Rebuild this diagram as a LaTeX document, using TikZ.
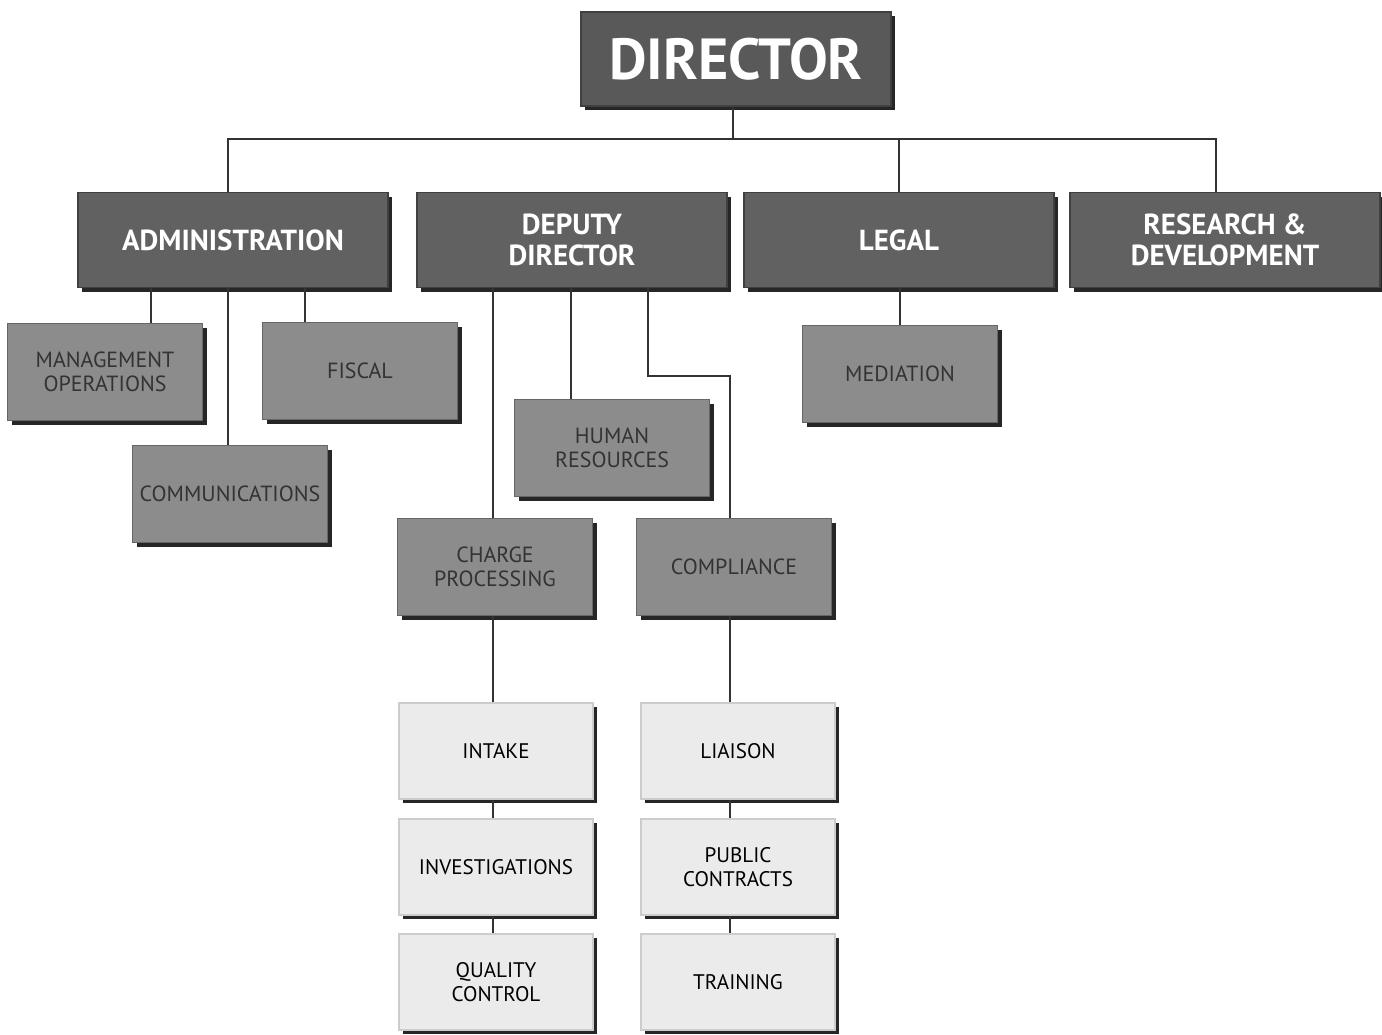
\documentclass[tikz,border=0pt]{standalone}
\usepackage{fontspec}
\setmainfont{PT Sans}
\usetikzlibrary{shadows}

\begin{document}
\begin{tikzpicture}[x=0.02cm,y=-0.02cm,line width=1.1pt,draw=black!80,
  box shadow/.style={drop shadow={shadow xshift=2.4pt,shadow yshift=-2.4pt,fill=black!85,opacity=1}},
  head node/.style={box shadow,draw=black!75,fill=black!65,text=white,font=\bfseries\fontsize{33}{35}\selectfont,minimum width=6.2cm,minimum height=1.88cm},
  top node/.style={box shadow,draw=black!75,fill=black!62,text=white,align=center,font=\bfseries\fontsize{16.5}{18}\selectfont,minimum width=6.2cm,minimum height=1.9cm},
  mid node/.style={box shadow,draw=black!60,fill=black!45,text=black!80,align=center,font=\fontsize{12.5}{14}\selectfont,minimum width=3.9cm,minimum height=1.94cm},
  low node/.style={box shadow,draw=black!20,fill=black!8,text=black,align=center,font=\fontsize{12}{14}\selectfont,minimum width=3.88cm,minimum height=1.92cm}]
  \useasboundingbox (0,0) rectangle (1382,1034);

  \node[head node] (dir) at (736,59) {DIRECTOR};

  \node[top node] (adm) at (233,240) {ADMINISTRATION};
  \node[top node] (dep) at (572,240) {DEPUTY\\DIRECTOR};
  \node[top node] (leg) at (899,240) {LEGAL};
  \node[top node] (rnd) at (1225,240) {RESEARCH \&\\DEVELOPMENT};

  \node[mid node] (mgt) at (105,372) {MANAGEMENT\\OPERATIONS};
  \node[mid node] (fis) at (360,371) {FISCAL};
  \node[mid node] (com) at (230,494) {COMMUNICATIONS};
  \node[mid node] (med) at (900,374) {MEDIATION};
  \node[mid node] (hum) at (612,448) {HUMAN\\RESOURCES};
  \node[mid node] (chg) at (495,567) {CHARGE\\PROCESSING};
  \node[mid node] (cmp) at (734,567) {COMPLIANCE};

  \node[low node] (int) at (496,751) {INTAKE};
  \node[low node] (inv) at (496,867) {INVESTIGATIONS};
  \node[low node] (qc)  at (496,982) {QUALITY\\CONTROL};
  \node[low node] (lia) at (738,751) {LIAISON};
  \node[low node] (pub) at (738,867) {PUBLIC\\CONTRACTS};
  \node[low node] (trn) at (738,982) {TRAINING};

  % director bus
  \coordinate (bus) at (733,139);
  \draw (dir.south -| bus) -- (bus);
  \draw (adm.north -| 228,0) -- (228,139) -- (1216,139) -- (rnd.north -| 1216,0);
  \draw (leg.south |- bus) -- (leg.north);

  % administration
  \draw (adm.south -| 151,0) -- (mgt.north -| 151,0);
  \draw (adm.south -| 305,0) -- (fis.north -| 305,0);
  \draw (adm.south -| 228,0) -- (com.north -| 228,0);

  % deputy director
  \draw (dep.south -| 571,0) -- (hum.north -| 571,0);
  \draw (dep.south -| 493,0) -- (chg.north -| 493,0);
  \draw (dep.south -| 648,0) -- (648,376) -- (730,376) -- (cmp.north -| 730,0);

  % legal
  \draw (leg.south -| med.north) -- (med.north);

  % lower columns
  \draw (chg.south -| 493,0) -- (int.north -| 493,0);
  \draw (int.south -| 493,0) -- (inv.north -| 493,0);
  \draw (inv.south -| 493,0) -- (qc.north -| 493,0);
  \draw (cmp.south -| 730,0) -- (lia.north -| 730,0);
  \draw (lia.south -| 730,0) -- (pub.north -| 730,0);
  \draw (pub.south -| 730,0) -- (trn.north -| 730,0);
\end{tikzpicture}
\end{document}
